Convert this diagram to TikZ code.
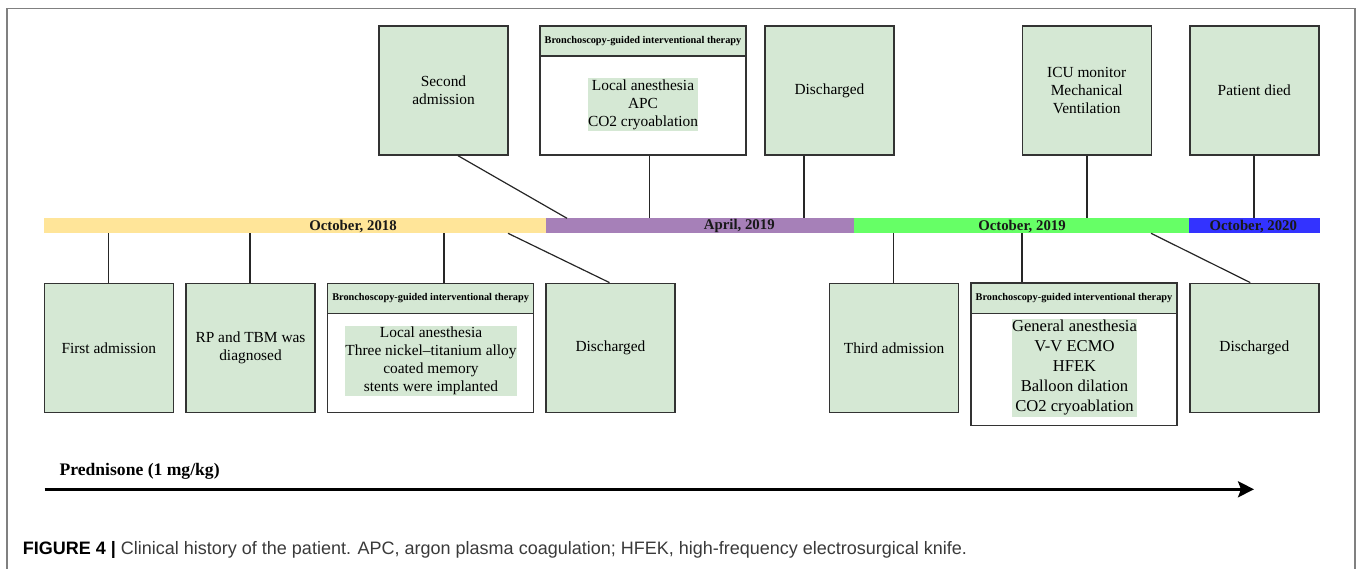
\documentclass[tikz,border=0pt]{standalone}
\usepackage{fontspec}
\setmainfont{Liberation Serif}
\newfontfamily\capfont{Liberation Sans}
\usetikzlibrary{arrows.meta,calc}
\definecolor{boxgreen}{HTML}{D5E8D4}
\definecolor{bordergray}{HTML}{333333}
\definecolor{segyellow}{HTML}{FFE599}
\definecolor{segpurple}{HTML}{A680B8}
\definecolor{seggreen}{HTML}{66FF66}
\definecolor{segblue}{HTML}{3333FF}
\definecolor{framegray}{HTML}{808080}
\definecolor{captext}{HTML}{3A3A3A}
\begin{document}
\begin{tikzpicture}[x=1pt,y=-1pt,
  evbox/.style={draw=bordergray, line width=1.4pt, fill=boxgreen, align=center,
    inner sep=0pt, minimum width=129pt, minimum height=129pt,
    font=\rmfamily\fontsize{15.4}{18.3}\selectfont},
  brbox/.style={draw=bordergray, line width=1.4pt, fill=white, inner sep=0pt,
    minimum width=206pt},
  hdrbox/.style={draw=bordergray, line width=1.4pt, fill=boxgreen, inner sep=0pt,
    minimum width=206pt, minimum height=30pt, anchor=north,
    font=\rmfamily\fontsize{10.3}{11}\selectfont\bfseries},
  content/.style={fill=boxgreen, align=center, inner xsep=0.5pt, inner ysep=1.5pt,
    font=\rmfamily\fontsize{15.4}{18}\selectfont},
  seg/.style={inner sep=0pt, minimum height=15pt, anchor=north west},
  seglabel/.style={font=\rmfamily\fontsize{14.8}{16}\selectfont\bfseries, text=black!90},
  conn/.style={draw=black!85, line width=1.2pt},
]
\useasboundingbox (0,0) rectangle (1357,569);
% frame
\draw[framegray, line width=1.3pt] (7,569) -- (7,8.5) -- (1355,8.5) -- (1355,569);

% timeline bar
\node[seg, fill=segyellow, minimum width=502.2pt] (s1) at (43.3,218.3) {};
\node[seg, fill=segpurple, minimum width=308.3pt] (s2) at (545.5,218.3) {};
\node[seg, fill=seggreen, minimum width=335pt] (s3) at (853.8,218.3) {};
\node[seg, fill=segblue, minimum width=131.2pt] (s4) at (1188.8,218.3) {};
\node[seglabel] (l1) at (353,226.3) {October, 2018};
\node[seglabel] (l2) at (739.3,226.3) {April, 2019};
\node[seglabel] (l3) at (1022,226.3) {October, 2019};
\node[seglabel] (l4) at (1253.3,226.3) {October, 2020};

% top row
\node[evbox] (sec) at (443.5,90.5) {Second\\admission};
\node[brbox, minimum height=129pt] (tb) at (643,90.5) {};
\node[hdrbox] (tbh) at (tb.north) {Bronchoscopy-guided interventional therapy};
\node[content] (tbc) at (643,104.5) {Local anesthesia\\APC\\CO2 cryoablation};
\node[evbox] (dtop) at (829.5,90.5) {Discharged};
\node[evbox] (icu) at (1086.7,90.5) {ICU monitor\\Mechanical\\Ventilation};
\node[evbox] (died) at (1254.3,90.5) {Patient died};

% bottom row
\node[evbox] (first) at (108.8,347.8) {First admission};
\node[evbox] (rp) at (250.5,347.8) {RP and TBM was\\diagnosed};
\node[brbox, minimum height=129pt] (bb1) at (430.6,347.8) {};
\node[hdrbox] (bb1h) at (bb1.north) {Bronchoscopy-guided interventional therapy};
\node[content] (bb1c) at (431,361) {Local anesthesia\\Three nickel--titanium alloy\\coated memory\\stents were implanted};
\node[evbox] (dis1) at (610.5,347.8) {Discharged};
\node[evbox] (third) at (894.1,347.8) {Third admission};
\node[brbox, minimum height=142pt] (bb2) at (1074,354.2) {};
\node[hdrbox] (bb2h) at (bb2.north) {Bronchoscopy-guided interventional therapy};
\node[content, font=\rmfamily\fontsize{16.6}{20}\selectfont] (bb2c) at (1074.5,368) {General anesthesia\\V-V ECMO\\HFEK\\Balloon dilation\\CO2 cryoablation};
\node[evbox] (dis3) at (1254.3,347.8) {Discharged};

% connector anchor points on the bar
\coordinate (t1) at (567,218.3);
\coordinate (t2) at (649.6,218.3);
\coordinate (t3) at (804,218.3);
\coordinate (t4) at (1087,218.3);
\coordinate (t5) at (1254,218.3);
\coordinate (b1) at (108.5,233.3);
\coordinate (b2) at (250,233.3);
\coordinate (b3) at (444,233.3);
\coordinate (b4) at (508,233.3);
\coordinate (b5) at (893.5,233.3);
\coordinate (b6) at (1022,233.3);
\coordinate (b7) at (1151,233.3);

\draw[conn] ([xshift=14.5pt]sec.south) -- (t1);
\draw[conn] (tb.south -| t2) -- (t2);
\draw[conn] (dtop.south -| t3) -- (t3);
\draw[conn] (icu.south -| t4) -- (t4);
\draw[conn] (died.south -| t5) -- (t5);
\draw[conn] (b1) -- (first.north -| b1);
\draw[conn] (b2) -- (rp.north -| b2);
\draw[conn] (b3) -- (bb1.north -| b3);
\draw[conn] (b4) -- ([xshift=-1pt]dis1.north);
\draw[conn] (b5) -- (third.north -| b5);
\draw[conn] (b6) -- (bb2.north -| b6);
\draw[conn] (b7) -- ([xshift=-4pt]dis3.north);

% prednisone arrow
\node[anchor=base west, inner sep=0pt, font=\rmfamily\fontsize{17.6}{20}\selectfont\bfseries] (pred) at (59.4,475) {Prednisone (1 mg/kg)};
\coordinate (a0) at (44.6,489.3);
\coordinate (a1) at (1254,489.3);
\draw[line width=2.8pt, -{Stealth[length=16pt,width=16pt,inset=3pt]}] (a0) -- (a1);

% caption
\node[anchor=base west, inner sep=0pt, font=\capfont\fontsize{18}{20}\selectfont] (cap) at (22.7,554.5)
  {\textbf{FIGURE 4 |} \textcolor{captext}{Clinical history of the patient. APC, argon plasma coagulation; HFEK, high-frequency electrosurgical knife.}};
\end{tikzpicture}
\end{document}
